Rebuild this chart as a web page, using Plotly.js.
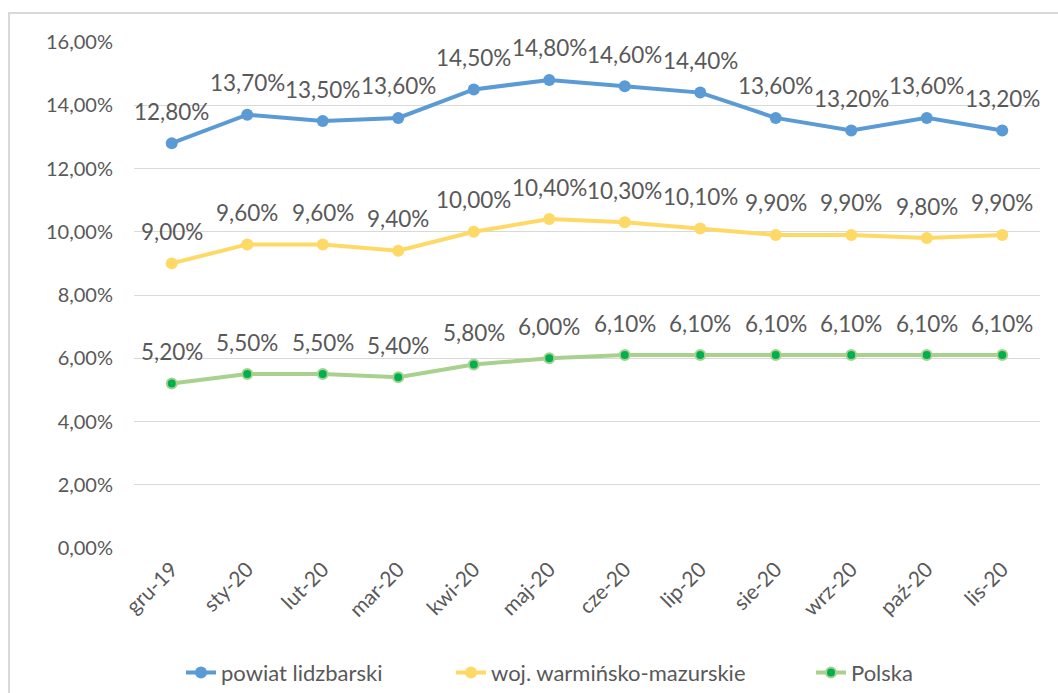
<!DOCTYPE html>
<html>
<head>
<meta charset="utf-8">
<script src="https://cdn.plot.ly/plotly-3.0.1.min.js"></script>
<style>
html,body{margin:0;padding:0;background:#fff;}
#chart{width:1058px;height:693px;}
</style>
</head>
<body>
<div id="chart"></div>
<script>
const months = ["gru-19","sty-20","lut-20","mar-20","kwi-20","maj-20","cze-20","lip-20","sie-20","wrz-20","paź-20","lis-20"];
const powiat = [12.8,13.7,13.5,13.6,14.5,14.8,14.6,14.4,13.6,13.2,13.6,13.2];
const wojewodztwo = [9.0,9.6,9.6,9.4,10.0,10.4,10.3,10.1,9.9,9.9,9.8,9.9];
const polska = [5.2,5.5,5.5,5.4,5.8,6.0,6.1,6.1,6.1,6.1,6.1,6.1];
const seriesNames = ["powiat lidzbarski","woj. warmińsko-mazurskie","Polska"];

const textColor = "#595959";
const fontFam = "Lato, 'Open Sans', sans-serif";

function fmt(v){ return v.toFixed(2).replace(".", ",") + "%"; }

const traces = [
  {x: months, y: powiat, name: seriesNames[0], type: "scatter", mode: "lines+markers", legend: "legend",
   line: {color: "#5b9bd5", width: 4}, marker: {color: "#5b9bd5", size: 12}},
  {x: months, y: wojewodztwo, name: seriesNames[1], type: "scatter", mode: "lines+markers", legend: "legend2",
   line: {color: "#ffd966", width: 4}, marker: {color: "#ffd966", size: 12}},
  {x: months, y: polska, name: seriesNames[2], type: "scatter", mode: "lines+markers", legend: "legend3",
   line: {color: "#a9d18e", width: 4}, marker: {color: "#00b050", size: 10, line: {color: "#a9d18e", width: 2}}}
];

const annotations = [];
[powiat, wojewodztwo, polska].forEach(arr => {
  arr.forEach((v, i) => {
    annotations.push({x: months[i], y: v, xref: "x", yref: "y", text: fmt(v), showarrow: false,
      yshift: 32, font: {family: fontFam, size: 22.5, color: textColor}});
  });
});

function leg(xpx){
  return {orientation: "h", xref: "container", x: xpx/1058, xanchor: "left", y: -0.205, yanchor: "top",
    font: {family: fontFam, size: 22, color: textColor}, bgcolor: "rgba(0,0,0,0)"};
}

const layout = {
  width: 1058, height: 693,
  margin: {l: 134, r: 18, t: 42, b: 145, autoexpand: false},
  paper_bgcolor: "#fff", plot_bgcolor: "#fff",
  separators: ", ",
  font: {family: fontFam, color: textColor, size: 19},
  showlegend: true,
  legend: leg(181),
  legend2: leg(451),
  legend3: leg(811),
  xaxis: {type: "category", range: [-0.5, 11.5], showgrid: false, zeroline: false, showline: false,
    automargin: false, tickangle: -45, ticks: "", ticklabelstandoff: 4,
    tickfont: {family: fontFam, size: 21, color: textColor}},
  yaxis: {range: [0, 16], dtick: 2, tick0: 0, tickformat: ".2f", ticksuffix: "%", automargin: false,
    showgrid: true, gridcolor: "#d9d9d9", gridwidth: 1, zeroline: false, showline: false,
    ticks: "", ticklabelstandoff: 20, tickfont: {family: fontFam, size: 20, color: textColor}},
  annotations: annotations,
  shapes: [{type: "rect", xref: "paper", yref: "paper", x0: (9-134)/906, x1: 1.1, y0: -0.4, y1: (548-13)/506,
    line: {color: "#d9d9d9", width: 2}, fillcolor: "rgba(0,0,0,0)", layer: "below"}]
};

Plotly.newPlot("chart", traces, layout, {staticPlot: true, displayModeBar: false});
</script>
</body>
</html>
